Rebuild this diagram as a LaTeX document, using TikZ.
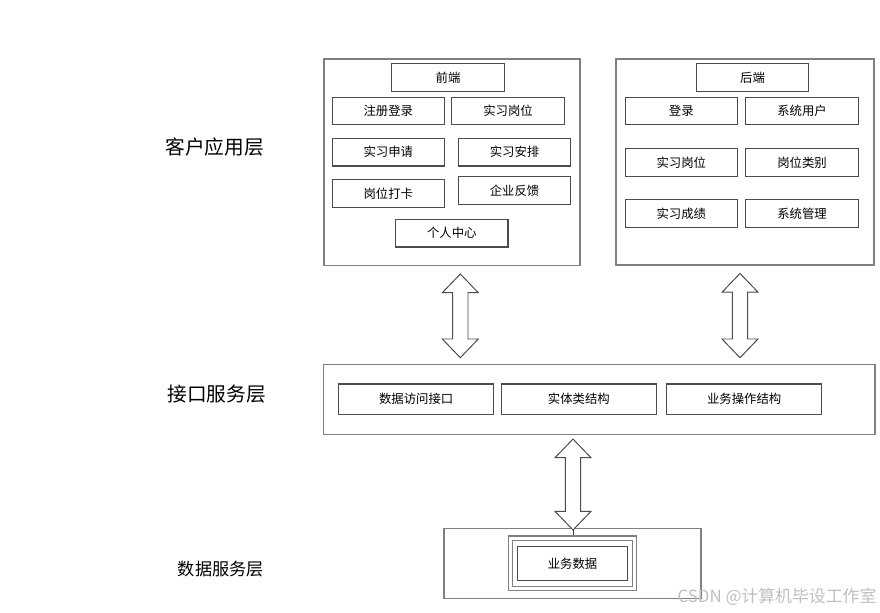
\documentclass[tikz,border=0pt]{standalone}
\usepackage{fontspec}
\setmainfont{Noto Sans CJK SC}
\usepackage{tikz}
\usetikzlibrary{calc}
\tikzset{
  frame/.style  ={draw=black!50, line width=1.1pt, inner sep=0pt},
  item/.style   ={draw=black!70, line width=0.8pt, inner sep=0pt, minimum width=2.81cm, minimum height=0.69cm, font=\fontsize{8.8}{10}\selectfont},
  api/.style    ={item, minimum width=3.88cm, minimum height=0.76cm},
  layer/.style  ={font=\fontsize{14}{16}\selectfont},
  dbl/.style    ={draw=black!70, line width=0.7pt, fill=white, line join=miter},
  wmark/.style  ={font=\fontsize{12}{14}\selectfont, text=black!25},
}

\begin{document}
\begin{tikzpicture}[x=0.025cm, y=-0.025cm]
  \useasboundingbox (0,0) rectangle (880,612);
  % layer names
  \node[layer] (l1) at (214.7,147.5) {客户应用层};
  \node[layer] (l2) at (216.7,394)   {接口服务层};
  \node[layer, font=\fontsize{12.2}{14}\selectfont] (l3) at (220.8,569) {数据服务层};
  % front end
  \node[frame, minimum width=6.4cm, minimum height=5.16cm] (fe) at (452,162.2) {};
  \node[item] (fetop) at (448,77.7)    {前端};
  \node[item] (reg)   at (388.3,111)   {注册登录};
  \node[item] (post)  at (508,111)     {实习岗位};
  \node[item] (apply) at (388.3,152.2) {实习申请};
  \node[item] (plan)  at (514.5,152.2) {实习安排};
  \node[item] (clock) at (388.3,193.7) {岗位打卡};
  \node[item] (fb)    at (514.5,190.3) {企业反馈};
  \node[item] (me)    at (451.8,233.2) {个人中心};
  % back end
  \node[frame, minimum width=6.45cm, minimum height=5.15cm] (be) at (745,162) {};
  \node[item] (betop) at (752.5,77.7)  {后端};
  \node[item] (login) at (681.3,111)   {登录};
  \node[item] (user)  at (802,111)     {系统用户};
  \node[item] (bpost) at (681.3,162.3) {实习岗位};
  \node[item] (kind)  at (802,162.3)   {岗位类别};
  \node[item] (score) at (681.3,213.7) {实习成绩};
  \node[item] (sys)   at (802,213.7)   {系统管理};
  % interface layer
  \node[frame, minimum width=13.79cm, minimum height=1.75cm] (mid) at (599.2,399.3) {};
  \node[api] (dao)  at (416.2,399.2) {数据访问接口};
  \node[api] (ent)  at (578.9,399.2) {实体类结构};
  \node[api] (ops)  at (744.2,399.2) {业务操作结构};
  % data layer
  \node[frame, minimum width=6.43cm, minimum height=1.75cm] (bot) at (572.5,563.5) {};
  \node[frame, line width=0.9pt, minimum width=3.21cm, minimum height=1.37cm] (dO) at (572.5,563.4) {};
  \node[frame, line width=0.9pt, minimum width=3.01cm, minimum height=1.15cm] (dM) at (572.5,563.4) {};
  \node[item, minimum width=2.75cm, minimum height=0.86cm] (data) at (572.5,563.4) {业务数据};
  % double arrows
  \coordinate (t1) at (460.3,274);
  \coordinate (b1) at (460.3,357.7);
  \coordinate (t2) at (740,273.5);
  \coordinate (b2) at (740,357.7);
  \coordinate (t3) at (573,439);
  \coordinate (b3) at (573,530);
  \foreach \t/\b in {t1/b1, t2/b2, t3/b3}
    \draw[dbl] (\t) -- ++(18,18.7) -- ++(-10.3,0) -- ($(\b)+(7.7,-18.7)$) -- ++(10.3,0) -- (\b)
      -- ++(-18,-18.7) -- ++(10.3,0) -- ($(\t)+(-7.7,18.7)$) -- ++(-10.3,0) -- cycle;
  \draw[black!80, line width=0.7pt] (b3) -- (b3 |- dO.north);
  % watermark
  \node[wmark] (wm) at (777,597) {CSDN @计算机毕设工作室};
\end{tikzpicture}
\end{document}
